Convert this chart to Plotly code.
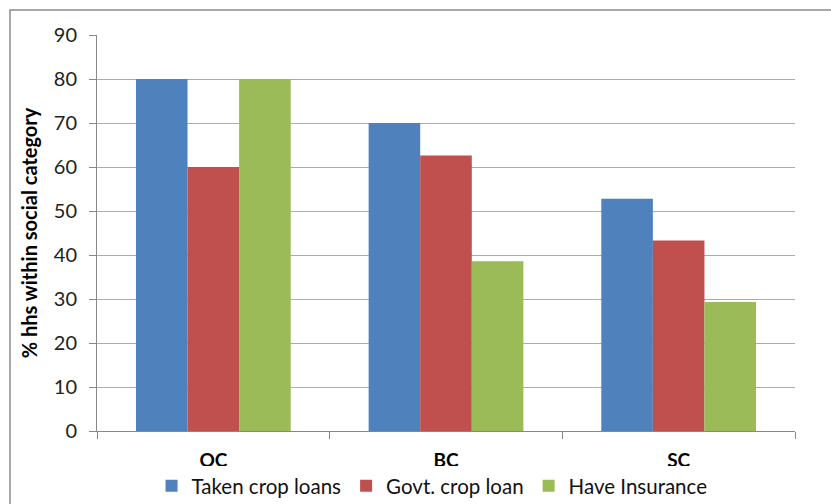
import plotly.graph_objects as go

categories = ["OC", "BC", "SC"]
taken_crop_loans = [80, 70, 52.8]
govt_crop_loan = [60, 62.6, 43.3]
have_insurance = [80, 38.6, 29.3]
series_names = ["Taken crop loans", "Govt. crop loan", "Have Insurance"]
colors = ["#4F81BD", "#C0504D", "#9BBB59"]

FONT = "Lato, 'Noto Sans', sans-serif"

fig = go.Figure()
for name, vals, col in zip(series_names, [taken_crop_loans, govt_crop_loan, have_insurance], colors):
    fig.add_trace(go.Bar(name=name, x=categories, y=vals, marker=dict(color=col, line=dict(width=0))))

fig.update_layout(
    width=831, height=504,
    margin=dict(l=97, r=36, t=35, b=73, autoexpand=False),
    paper_bgcolor="white", plot_bgcolor="white",
    barmode="group", bargap=0.335, bargroupgap=0,
    font=dict(family=FONT, color="#000000", size=20),
    showlegend=True,
    legend=dict(orientation="h", x=0.48, xanchor="center", y=(431 - 506) / 396, yanchor="bottom",
                font=dict(size=20.5, family=FONT, color="#111"), itemsizing="constant",
                traceorder="normal", itemwidth=30, tracegroupgap=0),
    xaxis=dict(showline=True, linecolor="#888888", linewidth=1, ticks="outside",
               tickson="boundaries", ticklen=7, tickcolor="#888888",
               tickfont=dict(size=19, family=FONT, color="#000"),
               ticklabelstandoff=12),
    yaxis=dict(range=[0, 90], dtick=10, showline=True, linecolor="#888888", linewidth=1,
               ticks="outside", ticklen=7, tickcolor="#888888",
               gridcolor="#ABABAB", gridwidth=1, zeroline=False,
               tickfont=dict(size=20, family=FONT, color="#222"),
               ticklabelstandoff=8,
               title=dict(text="<b>% hhs within social category</b>", font=dict(size=20, family=FONT), standoff=10)),
)
fig.update_xaxes(tickprefix="<b>", ticksuffix="</b>")

fig.add_shape(type="rect", xref="paper", yref="paper",
              x0=(10 - 97) / 698, x1=(840 - 97) / 698,
              y0=(431 - 520) / 396, y1=(431 - 10) / 396,
              line=dict(color="#8C8C8C", width=1.5), fillcolor="rgba(0,0,0,0)", layer="below")

fig.write_html("out.html")
